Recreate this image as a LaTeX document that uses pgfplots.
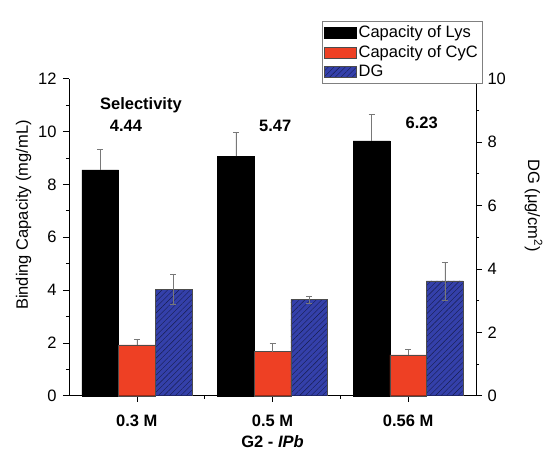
\documentclass[border=0pt]{standalone}
\usepackage{pgfplots}
\pgfplotsset{compat=1.18}
\usepackage{pgfplotstable}
\usetikzlibrary{patterns.meta}
\usepackage{fontspec}
\setmainfont{Liberation Sans}
\definecolor{cycred}{RGB}{238,64,36}
\definecolor{dgblue}{RGB}{52,64,170}
\definecolor{errgray}{RGB}{120,120,120}

\pgfplotstableread{
x lys lyserr cyc cycerr
1 8.55 0.76 1.92 0.20
2 9.06 0.92 1.67 0.30
3 9.65 1.01 1.55 0.21
}\leftdata
\pgfplotstableread{
x dg dgerr
1 3.35 0.48
2 3.04 0.11
3 3.62 0.60
}\rightdata

\begin{document}
\fontsize{16bp}{19bp}\selectfont
\begin{tikzpicture}
\pgfplotsset{
 common/.style={
  scale only axis, width=407bp, height=317bp,
  xmin=0.5, xmax=3.5,
  ybar, bar width=0.27,
  tick align=outside,
  major tick length=6bp, minor tick length=3bp,
  tick style={black, line width=0.6pt},
  /pgf/number format/assume math mode=true,
  ticklabel style={font=\fontsize{16.5bp}{19bp}\selectfont},
  label style={font=\fontsize{16.5bp}{19bp}\selectfont},
  axis line style={line width=0.8pt},
  error bars/y explicit,
  error bars/error bar style={errgray, line width=0.6pt},
  error bars/error mark options={rotate=90, mark size=3bp, errgray, line width=0.6pt},
 }
}
\begin{axis}[common, name=ax,
 axis x line*=bottom, axis y line*=left,
 ymin=0, ymax=12, ytick={0,2,...,12}, minor ytick={1,3,...,11},
 xtick={1,2,3}, xticklabels={\textbf{0.3 M},\textbf{0.5 M},\textbf{0.56 M}},
 minor xtick={1.5,2.5},
 xticklabel style={yshift=-8bp},
 xlabel={\textbf{G2 - \textit{IPb}}},
 every axis x label/.append style={inner ysep=0pt, yshift=-3.5bp},
 ylabel={Binding Capacity (mg/mL)},
 every axis y label/.append style={at={(ticklabel cs:0.57)}},
 ylabel shift=-4bp,
 yticklabel style={xshift=-1bp},
 clip=false,
 error bars/y dir=plus,
]
\addplot[draw=black, fill=black, bar shift=-0.27]
  table[x=x, y=lys, y error=lyserr]{\leftdata};
\addplot[draw=black!70, fill=cycred, bar shift=0]
  table[x=x, y=cyc, y error=cycerr]{\leftdata};
\node[font=\fontsize{16.5bp}{19bp}\selectfont\bfseries] at (axis cs:1.03,11.0) {Selectivity};
\node[font=\fontsize{16.5bp}{19bp}\selectfont\bfseries] at (axis cs:0.92,10.2) {4.44};
\node[font=\fontsize{16.5bp}{19bp}\selectfont\bfseries] at (axis cs:2.02,10.2) {5.47};
\node[font=\fontsize{16.5bp}{19bp}\selectfont\bfseries] at (axis cs:3.10,10.33) {6.23};
\end{axis}
\begin{axis}[common,
 axis y line*=right, axis x line=none,
 ymin=0, ymax=10, ytick={0,2,...,10}, minor ytick={1,3,...,9},
 ylabel={DG (μg/cm\textsuperscript{2})},
 every axis y label/.append style={at={(ticklabel cs:0.6)}, rotate=180},
 ylabel shift=8bp,
 error bars/y dir=both,
 legend image code/.code={\draw[#1] (0bp,-5.5bp) rectangle (32bp,5.5bp);},
 legend style={at={(1.015,1.183)}, anchor=north east, draw=gray, line width=0.6pt,
   font=\fontsize{16.5bp}{18bp}\selectfont, legend cell align=left,
   inner xsep=2bp, inner ysep=2.5bp, row sep=1.5bp},
]
\addlegendimage{draw=black, fill=black}
\addlegendentry{Capacity of Lys}
\addlegendimage{draw=black!70, fill=cycred}
\addlegendentry{Capacity of CyC}
\addlegendimage{draw=black!70, fill=dgblue, postaction={pattern={Lines[angle=45,distance=4bp,line width=0.4bp]}, pattern color=black!55!dgblue}}
\addlegendentry{DG}
\addplot[forget plot, draw=black!70, fill=dgblue, bar shift=0.27,
  postaction={pattern={Lines[angle=45,distance=4bp,line width=0.4bp]}, pattern color=black!55!dgblue}]
  table[x=x, y=dg, y error=dgerr]{\rightdata};
\end{axis}
\pgfresetboundingbox
\path[use as bounding box] (ax.south west) ++(-69bp,-56.3bp) rectangle ++(543bp,452bp);
\end{tikzpicture}
\end{document}
